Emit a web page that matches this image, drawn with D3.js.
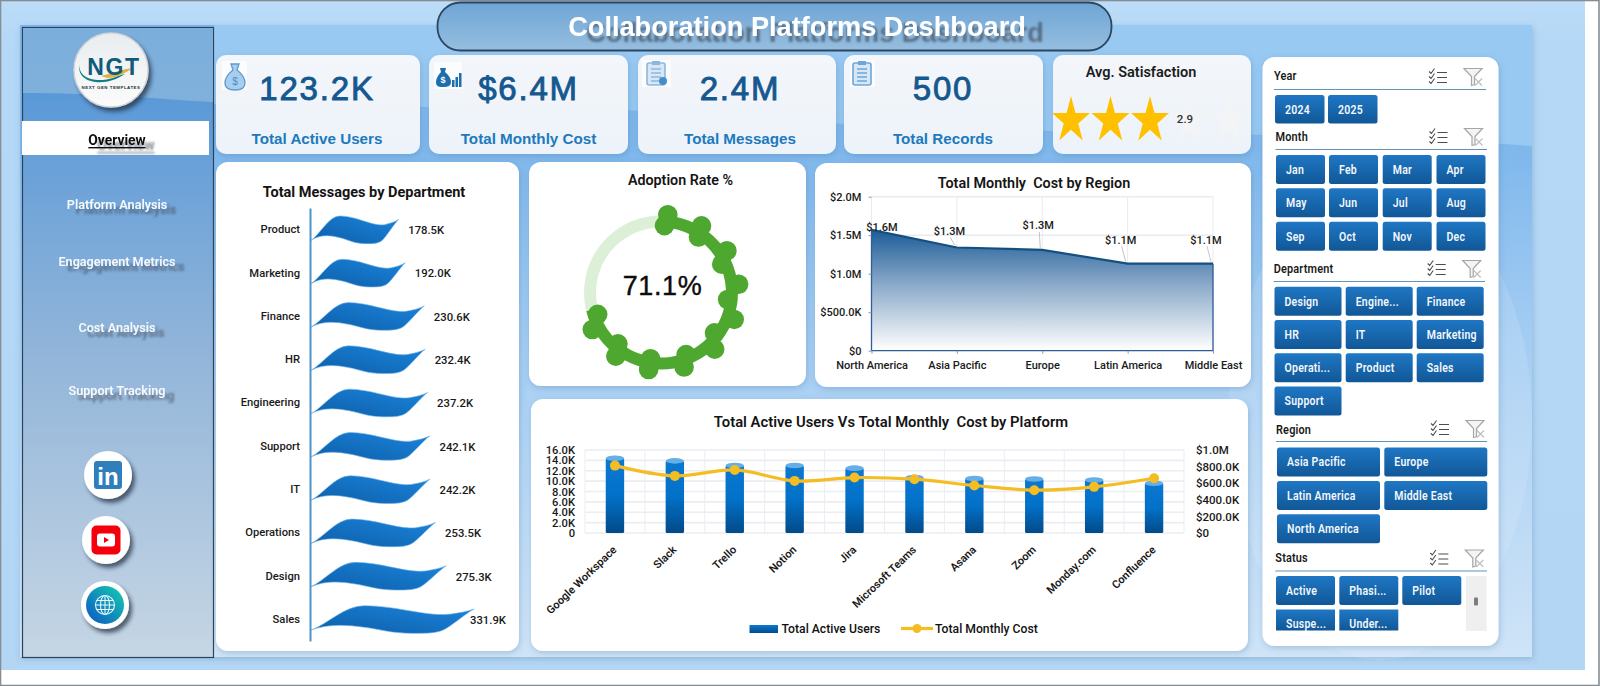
<!DOCTYPE html>
<html>
<head>
<meta charset="utf-8">
<title>Collaboration Platforms Dashboard</title>
<script src="https://cdn.jsdelivr.net/npm/d3@7"></script>
<style>
  html, body { margin: 0; padding: 0; background: #fff; overflow: hidden; }
  svg { display: block; }
  text { font-family: Roboto, "Noto Sans", sans-serif; }
  .arial { font-family: "Liberation Sans", Arial, sans-serif; }
</style>
</head>
<body>
<div id="dash"></div>
<script>
// Key figures
const kpiTitles = ["Total Active Users", "Total Monthly Cost", "Total Messages", "Total Records"];
const kpiValues = ["123.2K", "$6.4M", "2.4M", "500"];
const satisfaction = 2.9;
const adoptionRate = 71.1;

// Messages by department
const departments = ["Product", "Marketing", "Finance", "HR", "Engineering", "Support", "IT", "Operations", "Design", "Sales"];
const messages = [178500, 192000, 230600, 232400, 237200, 242100, 242200, 253500, 275300, 331900];

// Monthly cost by region
const regions = ["North America", "Asia Pacific", "Europe", "Latin America", "Middle East"];
const regionCost = [1570000, 1340000, 1310000, 1130000, 1130000];
const regionTicks = [0, 500000, 1000000, 1500000, 2000000];

// Users and cost by platform
const platforms = ["Google Workspace", "Slack", "Trello", "Notion", "Jira", "Microsoft Teams", "Asana", "Zoom", "Monday.com", "Confluence"];
const activeUsers = [14400, 13900, 13000, 13000, 12500, 10700, 10500, 10400, 10200, 9600];
const monthlyCost = [812000, 688000, 760000, 628000, 668000, 648000, 572000, 516000, 556000, 660000];
const userTicks = [0, 2000, 4000, 6000, 8000, 10000, 12000, 14000, 16000];
const costTicks = [0, 200000, 400000, 600000, 800000, 1000000];

// Navigation and filter lists
const navItems = ["Overview", "Platform Analysis", "Engagement Metrics", "Cost Analysis", "Support Tracking"];
const years = ["2024", "2025"];
const months = ["Jan", "Feb", "Mar", "Apr", "May", "Jun", "Jul", "Aug", "Sep", "Oct", "Nov", "Dec"];
const deptButtons = ["Design", "Engine...", "Finance", "HR", "IT", "Marketing", "Operati...", "Product", "Sales", "Support"];
const regionButtons = ["Asia Pacific", "Europe", "Latin America", "Middle East", "North America"];
const statusButtons = ["Active", "Phasi...", "Pilot", "Suspe...", "Under..."];

const svg = d3.select("#dash").append("svg").attr("width", 1600).attr("height", 686);
const defs = svg.append("defs");

function linear(id, stops, dir) {
  const g = defs.append("linearGradient").attr("id", id);
  const d = dir || [0, 0, 0, 1];
  g.attr("x1", d[0]).attr("y1", d[1]).attr("x2", d[2]).attr("y2", d[3]);
  stops.forEach(s => g.append("stop").attr("offset", s[0]).attr("stop-color", s[1]));
}
linear("outerGrad", [[0, "#bcdcf8"], [0.06, "#b5d8f6"], [1, "#b3d6f4"]]);
linear("panelGrad", [[0, "#7db6ec"], [0.2, "#80b8ec"], [0.5, "#a4cdf3"], [1, "#cfe4f7"]]);
linear("panelTop", [[0, "#98c9f2"], [1, "#98c9f2"]]);
linear("sideGrad", [[0, "#4a93d8"], [0.12, "#5c9ad8"], [0.5, "#90b4d9"], [1, "#c6d6e4"]]);
linear("sideTop", [[0, "#7caedb"], [1, "#80b1dd"]]);
linear("pillGrad", [[0, "#6ea5d6"], [1, "#96bedf"]]);
linear("waveGrad", [[0, "#0d5ea8"], [1, "#1b84dc"]], [0, 1, 1, 0]);
linear("areaGrad", [[0, "#1c5c97"], [0.45, "#8aa9c9"], [1, "#ffffff"]]);
linear("barGrad", [[0, "#0b78d2"], [0.5, "#0271c8"], [1, "#024a88"]]);
linear("btnGrad", [[0, "#1f77c4"], [1, "#115797"]]);
linear("legendGrad", [[0, "#0b78d2"], [1, "#024a88"]]);
linear("logoGrad", [[0, "#e9edf0"], [1, "#fbfbfa"]]);
linear("kpiGrad", [[0, "#f3f6fa"], [1, "#edf3fa"]]);
linear("webGrad", [[0, "#17cdb0"], [1, "#0a56c4"]], [1, 0, 0, 1]);

const soft = defs.append("filter").attr("id", "cardShadow").attr("x", "-10%").attr("y", "-10%").attr("width", "120%").attr("height", "120%");
soft.append("feDropShadow").attr("dx", 1).attr("dy", 2).attr("stdDeviation", 3).attr("flood-color", "#3c6f9e").attr("flood-opacity", 0.3);
const hard = defs.append("filter").attr("id", "iconShadow").attr("x", "-30%").attr("y", "-30%").attr("width", "170%").attr("height", "170%");
hard.append("feDropShadow").attr("dx", 3).attr("dy", 4).attr("stdDeviation", 2).attr("flood-color", "#1d2c3a").attr("flood-opacity", 0.7);
function textShadow(id, dx, dy) {
  const f = defs.append("filter").attr("id", id).attr("x", "-15%").attr("y", "-60%").attr("width", "140%").attr("height", "240%");
  f.append("feDropShadow").attr("dx", dx).attr("dy", dy).attr("stdDeviation", 1.2).attr("flood-color", "#38434f").attr("flood-opacity", 0.6);
}
textShadow("navShadow", 9, 5);
textShadow("titleShadow", 18, 6);

function label(parent, x, y, str, opts) {
  const o = opts || {};
  return parent.append("text").attr("x", x).attr("y", y).text(str)
    .attr("class", o.cls || null)
    .attr("text-anchor", o.anchor || "middle")
    .attr("dominant-baseline", "central")
    .attr("font-size", o.size || 12)
    .attr("font-weight", o.weight || 500)
    .attr("letter-spacing", o.spacing || null)
    .attr("fill", o.fill || "#111");
}
// Horizontally condensed text for the filter panel
function narrowLabel(x, y, str, opts) {
  const o = opts || {};
  return svg.append("text").attr("transform", `translate(${x},${y}) scale(0.84,1)`).text(str)
    .attr("text-anchor", "start")
    .attr("dominant-baseline", "central")
    .attr("font-size", o.size || 12.5)
    .attr("font-weight", o.weight || 600)
    .attr("letter-spacing", o.spacing || null)
    .attr("fill", o.fill || "#111");
}
function card(x0, y0, x1, y1, r, fill) {
  svg.append("rect").attr("x", x0).attr("y", y0).attr("width", x1 - x0).attr("height", y1 - y0)
    .attr("rx", r).attr("fill", fill || "#fff").attr("filter", "url(#cardShadow)");
}

/* ---------- page background ---------- */
svg.append("rect").attr("width", 1600).attr("height", 686).attr("fill", "#fff");
svg.append("rect").attr("x", 1).attr("y", 1).attr("width", 1584).attr("height", 669).attr("fill", "url(#outerGrad)");
svg.append("rect").attr("x", 20).attr("y", 25).attr("width", 1512).attr("height", 632).attr("fill", "url(#panelGrad)").attr("filter", "url(#cardShadow)");
svg.append("path").attr("fill", "url(#panelTop)")
  .attr("d", "M214,25H1532V146C1300,128 1000,138 760,118C560,102 380,110 214,104Z");
svg.append("ellipse").attr("cx", 1380).attr("cy", 420).attr("rx", 152).attr("ry", 240).attr("fill", "#fff").attr("opacity", 0.12);
svg.append("rect").attr("x", 0.5).attr("y", 0.5).attr("width", 1598.5).attr("height", 685).attr("fill", "none").attr("stroke", "#858d95").attr("stroke-width", 1.6);

/* ---------- title ---------- */
svg.append("rect").attr("x", 437.5).attr("y", 2.5).attr("width", 674).attr("height", 48).attr("rx", 23)
  .attr("fill", "url(#pillGrad)").attr("stroke", "#2c4660").attr("stroke-width", 1.8);
label(svg, 797, 26, "Collaboration Platforms Dashboard", { cls: "arial", size: 27.2, weight: 700, fill: "#fff" })
  .attr("filter", "url(#titleShadow)");

/* ---------- sidebar ---------- */
const side = svg.append("g");
side.append("rect").attr("x", 22.5).attr("y", 27.5).attr("width", 191).attr("height", 630)
  .attr("fill", "url(#sideGrad)").attr("stroke", "#2b4257").attr("stroke-width", 1.2);
side.append("path").attr("fill", "url(#sideTop)").attr("d", "M23,28H213V102C150,98 80,92 23,93Z");

const navY = [140, 204, 261, 327, 390];
navItems.forEach((name, i) => {
  if (i === 0) side.append("rect").attr("x", 22).attr("y", 121).attr("width", 187).attr("height", 34).attr("fill", "#fff");
  label(side, 117, navY[i], name, { size: i === 0 ? 13.8 : 12.6, weight: i === 0 ? 700 : 600, fill: i === 0 ? "#111" : "#f6f9fc" })
    .attr("text-decoration", i === 0 ? "underline" : null)
    .attr("filter", "url(#navShadow)");
});

// Logo badge
const logo = side.append("g").attr("transform", "translate(111,70)");
logo.append("circle").attr("r", 37).attr("fill", "url(#logoGrad)").attr("stroke", "#d2d6da").attr("stroke-width", 1.5).attr("filter", "url(#iconShadow)");
logo.append("path").attr("d", "M-31,-5C-33,5 -22,11 -8,10C2,9 8,5 14,4C5,10 -5,13 -15,12C-26,11 -34,4 -31,-5Z").attr("fill", "#0f7d86");
logo.append("path").attr("d", "M-10,6C2,3 12,-1 22,-2C14,3 6,8 -4,8Z").attr("fill", "#e0b040");
label(logo, 3, -3, "NGT", { cls: "arial", size: 23, weight: 700, fill: "#0f5b7c", spacing: 1.6 });
label(logo, 0, 17, "NEXT GEN TEMPLATES", { cls: "arial", size: 4.4, weight: 700, fill: "#23313c", spacing: 0.5 });

// Social badges
const badgeCenters = [[108, 475], [106, 540], [105, 605]];
badgeCenters.forEach(c => {
  side.append("circle").attr("cx", c[0]).attr("cy", c[1]).attr("r", 24).attr("fill", "#fff").attr("filter", "url(#iconShadow)");
});
const li = side.append("g").attr("transform", `translate(${badgeCenters[0]})`);
li.append("rect").attr("x", -14).attr("y", -14).attr("width", 28).attr("height", 28).attr("rx", 3).attr("fill", "#2f7fbc");
label(li, 0, 1, "in", { cls: "arial", size: 24, weight: 700, fill: "#fff" });
const yt = side.append("g").attr("transform", `translate(${badgeCenters[1]})`);
yt.append("rect").attr("x", -14.5).attr("y", -14.5).attr("width", 29).attr("height", 29).attr("rx", 5).attr("fill", "#f4000c");
yt.append("rect").attr("x", -9).attr("y", -6.5).attr("width", 18).attr("height", 13).attr("rx", 3).attr("fill", "#fff");
yt.append("path").attr("d", "M-2,-3L3,0L-2,3Z").attr("fill", "#f4000c");
const web = side.append("g").attr("transform", `translate(${badgeCenters[2]})`);
web.append("circle").attr("r", 19).attr("fill", "url(#webGrad)");
const globe = web.append("g").attr("fill", "none").attr("stroke", "#e8f6fb").attr("stroke-width", 1.1);
globe.append("circle").attr("r", 9.5);
globe.append("ellipse").attr("rx", 4.5).attr("ry", 9.5);
globe.append("path").attr("d", "M-9.5,0H9.5M-8.3,-4.5H8.3M-8.3,4.5H8.3M0,-9.5V9.5");

/* ---------- KPI cards ---------- */
const kpiBoxes = [[216, 420], [429, 628], [638, 836], [844, 1043]];
const kpiCentres = [317, 528.5, 740, 943];
kpiBoxes.forEach((b, i) => {
  card(b[0], 55, b[1], 154, 10, "url(#kpiGrad)");
  label(svg, kpiCentres[i], 88.5, kpiValues[i], { cls: "arial", size: 33, weight: 400, fill: "#15588f", spacing: 1.8 })
    .attr("stroke", "#15588f").attr("stroke-width", 0.9);
  label(svg, kpiCentres[i], 138.5, kpiTitles[i], { cls: "arial", size: 15.2, weight: 700, fill: "#2079bd" });
});

// Small pictograms in the KPI cards
const pict = [[222, 61, 25, 29], [434, 62, 28, 27], [642, 60, 29, 27], [850, 60, 25, 27]];
pict.forEach(p => svg.append("rect").attr("x", p[0]).attr("y", p[1]).attr("width", p[2]).attr("height", p[3]).attr("fill", "#fbfcfe"));
const bag = svg.append("g").attr("transform", "translate(235,77)");
bag.append("path").attr("d", "M-4,-13H4L2,-7C7,-3 10,2 10,6C10,11 6,13 0,13C-6,13 -10,11 -10,6C-10,2 -7,-3 -2,-7Z").attr("fill", "#a9cdec").attr("stroke", "#5c9ad2").attr("stroke-width", 1.3);
label(bag, 0, 4, "$", { cls: "arial", size: 10, weight: 400, fill: "#4a8cc6" });
const bag2 = svg.append("g").attr("transform", "translate(448,76)");
bag2.append("path").attr("d", "M-8,-8H-2L-3,-4C1,-1 3,3 3,6C3,10 0,11 -5,11C-10,11 -12,10 -12,6C-12,3 -10,-1 -7,-4Z").attr("fill", "#1c6eac");
label(bag2, -5, 4, "$", { cls: "arial", size: 9, weight: 700, fill: "#fff" });
[[4, 4], [7.5, 1], [11, -3]].forEach(s => bag2.append("rect").attr("x", s[0]).attr("y", s[1]).attr("width", 2.5).attr("height", 11 - s[1]).attr("fill", "#1c6eac"));
[[656, 73, "#8bb8df"], [862, 73, "#6ea6d8"]].forEach((s, idx) => {
  const g = svg.append("g").attr("transform", `translate(${s[0]},${s[1]})`);
  g.append("rect").attr("x", -9).attr("y", -10).attr("width", 18).attr("height", 22).attr("rx", 2).attr("fill", "#d7e7f5").attr("stroke", s[2]).attr("stroke-width", 1.6);
  g.append("rect").attr("x", -4).attr("y", -12).attr("width", 8).attr("height", 4).attr("fill", s[2]);
  g.append("path").attr("d", "M-5,-4H5M-5,0H5M-5,4H5M-5,8H5").attr("stroke", s[2]).attr("stroke-width", 1.5);
  if (idx === 0) g.append("circle").attr("cx", 7).attr("cy", 8).attr("r", 4).attr("fill", "#4a8cc6");
});

/* ---------- satisfaction stars ---------- */
card(1053, 55, 1251, 154, 10, "url(#kpiGrad)");
label(svg, 1141, 72, "Avg. Satisfaction", { size: 14.5, weight: 600, fill: "#1c1c1c" });
const starX = d3.scaleLinear().domain([0, 4]).range([1071, 1229]);
const starPath = d3.lineRadial().curve(d3.curveLinearClosed)
  .radius((d, i) => i % 2 ? 7.6 : 20)
  .angle((d, i) => i * Math.PI / 5);
svg.selectAll(".star").data(d3.range(5)).join("path").attr("class", "star")
  .attr("transform", d => `translate(${starX(d)},120.5) scale(1,1.23)`)
  .attr("d", starPath(d3.range(10)))
  .attr("fill", d => d < Math.round(satisfaction) ? "#ffc000" : "#f2f4f6");
label(svg, 1185, 119, satisfaction.toFixed(1), { size: 11.5, weight: 500, fill: "#333" });

/* ---------- messages by department ---------- */
card(216, 162, 519, 651, 12);
label(svg, 364, 192, "Total Messages by Department", { size: 14.5, weight: 700, fill: "#141414" });
const kFmt = v => (v / 1000).toFixed(1) + "K";
const msgX = d3.scaleLinear().domain([0, 350000]).range([310, 482]);
const msgY = d3.scaleBand().domain(departments).range([208, 641]);
function wave(w) {
  const p = d3.path();
  p.moveTo(0, 10.7);
  p.bezierCurveTo(.1 * w, 5, .2 * w, -13.5, .33 * w, -13.7);
  p.bezierCurveTo(.52 * w, -13.7, .7 * w, -3, .84 * w, -5);
  p.bezierCurveTo(.9 * w, -6, .96 * w, -8, w, -10.3);
  p.bezierCurveTo(.95 * w, -6, .88 * w, 4, .83 * w, 9);
  p.bezierCurveTo(.78 * w, 14, .72 * w, 14, .62 * w, 14);
  p.bezierCurveTo(.5 * w, 14, .42 * w, 10, .33 * w, 8);
  p.bezierCurveTo(.2 * w, 5, .1 * w, 5, 0, 10.7);
  p.closePath();
  return p.toString();
}
const msgGroup = svg.append("g");
msgGroup.selectAll("path").data(departments).join("path")
  .attr("transform", d => `translate(${msgX(0) + 1},${msgY(d) + msgY.bandwidth() / 2})`)
  .attr("d", (d, i) => wave(msgX(messages[i]) - msgX(0)))
  .attr("fill", "url(#waveGrad)").attr("stroke", "#6db2e8").attr("stroke-width", 0.6);
msgGroup.selectAll("text.val").data(departments).join("text").attr("class", "val")
  .attr("x", (d, i) => Math.min(msgX(messages[i]) + 10.5, 470))
  .attr("y", d => msgY(d) + msgY.bandwidth() / 2 + 1)
  .attr("dominant-baseline", "central").attr("font-size", 11.3).attr("font-weight", 500).attr("fill", "#1a1a1a")
  .text((d, i) => kFmt(messages[i]));
const msgAxis = svg.append("g").attr("transform", `translate(${msgX(0)},0)`)
  .call(d3.axisLeft(msgY).tickSize(0).tickPadding(10));
msgAxis.select(".domain").attr("stroke", "#4f93c8").attr("stroke-width", 2);
msgAxis.selectAll("text").attr("font-size", 11.2).attr("font-weight", 500).attr("fill", "#1a1a1a")
  .attr("font-family", "Roboto");

/* ---------- adoption ring ---------- */
card(529, 162, 806, 386, 12);
label(svg, 680.5, 180, "Adoption Rate %", { size: 14.3, weight: 600, fill: "#141414" });
const ring = svg.append("g").attr("transform", "translate(661,292.5)");
const ringArc = d3.arc().innerRadius(65).outerRadius(77);
const rateAngle = d3.scaleLinear().domain([0, 100]).range([0, 2 * Math.PI]);
ring.append("path").attr("d", ringArc({ startAngle: 0, endAngle: 2 * Math.PI })).attr("fill", "#dcf0d8");
ring.append("path").attr("d", ringArc({ startAngle: 0, endAngle: rateAngle(adoptionRate) })).attr("fill", "#4ea72e");
// Knobs run along both edges of the filled part of the ring, with their own spacing
const knobs = d3.range(10).map(i => ({ r: 78, a: 5 + i * 26.3 })).concat(d3.range(9).map(i => ({ r: 67, a: 3 + i * 31 })));
ring.selectAll("circle").data(knobs).join("circle")
  .attr("cx", d => d.r * Math.sin(d.a * Math.PI / 180))
  .attr("cy", d => -d.r * Math.cos(d.a * Math.PI / 180))
  .attr("r", 9.8).attr("fill", "#4ea72e");
label(ring, 1.5, -7, adoptionRate.toFixed(1) + "%", { cls: "arial", size: 27, weight: 400, fill: "#0c0c0c", spacing: 0.6 })
  .attr("stroke", "#0c0c0c").attr("stroke-width", 0.4);

/* ---------- cost by region ---------- */
card(815, 163, 1251, 387, 12);
label(svg, 1034, 183, "Total Monthly  Cost by Region", { size: 14.4, weight: 600, fill: "#141414" }).attr("xml:space", "preserve");
const moneyFmt = v => v === 0 ? "$0" : v >= 1e6 ? "$" + (v / 1e6).toFixed(1) + "M" : "$" + (v / 1000).toFixed(1) + "K";
const regX = d3.scalePoint().domain(regions).range([871.5, 1213]);
const regY = d3.scaleLinear().domain([0, 2000000]).range([350.7, 196.7]);
const regGrid = svg.append("g").attr("stroke", "#e9ebef").attr("stroke-width", 1.6);
regGrid.selectAll("line.h").data(regionTicks.slice(1)).join("line").attr("class", "h")
  .attr("x1", regX.range()[0]).attr("x2", regX.range()[1]).attr("y1", regY).attr("y2", regY);
regGrid.selectAll("line.v").data(regions).join("line").attr("class", "v")
  .attr("stroke-width", 1)
  .attr("x1", regX).attr("x2", regX).attr("y1", regY(2000000)).attr("y2", regY(0));
const regPts = regions.map((r, i) => [regX(r), regY(regionCost[i])]);
svg.append("path").attr("fill", "url(#areaGrad)")
  .attr("d", d3.area().x(d => d[0]).y0(regY(0)).y1(d => d[1])(regPts));
svg.append("path").attr("fill", "none").attr("stroke", "#2f5b97").attr("stroke-width", 1.3)
  .attr("d", `M${regPts[0][0]},${regY(0)}V${regPts[0][1]}M${regPts[0][0]},${regY(0)}H${regPts[4][0]}V${regPts[4][1]}`);
svg.append("path").attr("fill", "none").attr("stroke", "#14507f").attr("stroke-width", 2.2).attr("d", d3.line()(regPts));
const regAxisL = svg.append("g").attr("transform", `translate(${regX.range()[0]},0)`)
  .call(d3.axisLeft(regY).tickValues(regionTicks).tickFormat(moneyFmt).tickSize(3).tickPadding(7));
regAxisL.select(".domain").remove();
regAxisL.selectAll("line").attr("stroke", "#8d97a8");
regAxisL.selectAll("text").attr("font-size", 11).attr("font-weight", 500).attr("fill", "#1a1a1a").attr("font-family", "Roboto");
const regAxisB = svg.append("g").attr("transform", `translate(0,${regY(0)})`)
  .call(d3.axisBottom(regX).tickSize(3).tickPadding(8));
regAxisB.select(".domain").remove();
regAxisB.selectAll("line").attr("stroke", "#8d97a8");
regAxisB.selectAll("text").attr("font-size", 11).attr("font-weight", 500).attr("fill", "#1a1a1a").attr("font-family", "Roboto");
// Callout labels sit off their points, joined by thin leader lines
const calloutShift = [[10.5, -2], [-7.5, -16], [-4, -24], [-7, -23.5], [-7, -23.5]];
regPts.forEach((p, i) => {
  const s = calloutShift[i];
  if (i > 0) svg.append("line").attr("x1", p[0] - 2).attr("y1", p[1] - 2).attr("x2", p[0] + s[0] + 1).attr("y2", p[1] + s[1] + 6)
    .attr("stroke", "#b5b5b5").attr("stroke-width", 0.8);
  label(svg, p[0] + s[0], p[1] + s[1], moneyFmt(regionCost[i]), { size: 11, weight: 500, fill: "#1a1a1a" });
});

/* ---------- users vs cost ---------- */
card(531, 399, 1248, 651, 12);
label(svg, 891, 421.5, "Total Active Users Vs Total Monthly  Cost by Platform", { size: 14.8, weight: 600, fill: "#141414" }).attr("xml:space", "preserve");
const platX = d3.scaleBand().domain(platforms).range([585, 1184]);
const userY = d3.scaleLinear().domain([0, 16000]).range([533, 450]);
const costY = d3.scaleLinear().domain([0, 1000000]).range([533, 450]);
const platGrid = svg.append("g").attr("stroke", "#ebedf1");
platGrid.selectAll("line.h").data(userTicks).join("line").attr("class", "h").attr("stroke-width", 1.6)
  .attr("x1", 585).attr("x2", 1184).attr("y1", userY).attr("y2", userY);
platGrid.selectAll("line.v").data(platforms.concat("end")).join("line").attr("class", "v").attr("stroke-width", 1)
  .attr("x1", d => d === "end" ? 1184 : platX(d)).attr("x2", d => d === "end" ? 1184 : platX(d))
  .attr("y1", 450).attr("y2", 533);
const barW = 18.4;
const bars = svg.append("g");
bars.selectAll("rect").data(platforms).join("rect")
  .attr("x", d => platX(d) + platX.bandwidth() / 2 - barW / 2)
  .attr("y", (d, i) => userY(activeUsers[i]))
  .attr("width", barW).attr("height", (d, i) => userY(0) - userY(activeUsers[i]))
  .attr("rx", 1.5).attr("fill", "url(#barGrad)");
bars.selectAll("ellipse").data(platforms).join("ellipse")
  .attr("cx", d => platX(d) + platX.bandwidth() / 2)
  .attr("cy", (d, i) => userY(activeUsers[i]))
  .attr("rx", barW / 2).attr("ry", 2.8).attr("fill", "#66aee6");
const costLine = d3.line().curve(d3.curveCatmullRom.alpha(0.5))
  .x(d => platX(d) + platX.bandwidth() / 2)
  .y((d, i) => costY(monthlyCost[i]));
svg.append("path").attr("fill", "none").attr("stroke", "#f4bd24").attr("stroke-width", 3.2).attr("d", costLine(platforms));
svg.append("g").selectAll("circle").data(platforms).join("circle")
  .attr("cx", d => platX(d) + platX.bandwidth() / 2)
  .attr("cy", (d, i) => costY(monthlyCost[i]))
  .attr("r", 5).attr("fill", "#f4bd24");
const userFmt = v => v === 0 ? "0" : (v / 1000).toFixed(1) + "K";
const axL = svg.append("g").attr("transform", "translate(585,0)")
  .call(d3.axisLeft(userY).tickValues(userTicks).tickFormat(userFmt).tickSize(0).tickPadding(10));
axL.select(".domain").remove();
axL.selectAll("text").attr("font-size", 11.2).attr("font-weight", 500).attr("fill", "#1a1a1a").attr("font-family", "Roboto");
const axR = svg.append("g").attr("transform", "translate(1184,0)")
  .call(d3.axisRight(costY).tickValues(costTicks).tickFormat(moneyFmt).tickSize(0).tickPadding(12));
axR.select(".domain").remove();
axR.selectAll("text").attr("font-size", 11.5).attr("font-weight", 500).attr("fill", "#1a1a1a").attr("font-family", "Roboto");
const axB = svg.append("g").attr("transform", "translate(0,533)")
  .call(d3.axisBottom(platX).tickSize(0).tickPadding(0));
axB.select(".domain").remove();
axB.selectAll("text").attr("font-size", 11).attr("font-weight", 600).attr("fill", "#1a1a1a").attr("font-family", "Roboto")
  .attr("text-anchor", "end").attr("dy", null).attr("y", 0)
  .attr("transform", "translate(0,15) rotate(-44)").attr("dominant-baseline", "central");
// Legend
svg.append("rect").attr("x", 749.5).attr("y", 625).attr("width", 28.5).attr("height", 8).attr("fill", "url(#legendGrad)");
label(svg, 781.5, 628.5, "Total Active Users", { anchor: "start", size: 12.2, weight: 500 });
svg.append("line").attr("x1", 901).attr("x2", 933).attr("y1", 628.5).attr("y2", 628.5).attr("stroke", "#f4bd24").attr("stroke-width", 3.2);
svg.append("circle").attr("cx", 917).attr("cy", 628.5).attr("r", 4.5).attr("fill", "#f4bd24");
label(svg, 935, 628.5, "Total Monthly Cost", { anchor: "start", size: 12.2, weight: 500 });

/* ---------- filter panel ---------- */
card(1262.5, 57, 1498.5, 646, 12);
function slicerHeader(name, x, y, lineY, x1, iconShift) {
  narrowLabel(x, y, name, { size: 13, weight: 600, fill: "#1a1a1a", spacing: 0.2 });
  svg.append("line").attr("x1", x).attr("x2", x1).attr("y1", lineY).attr("y2", lineY).attr("stroke", "#5f93b8").attr("stroke-width", 1.2);
  const g = svg.append("g").attr("transform", `translate(${x + iconShift},${lineY - 13})`);
  g.append("path").attr("fill", "none").attr("stroke", "#4d4d4d").attr("stroke-width", 1.1)
    .attr("d", "M0,-5L2,-3L5.5,-8M0,0L2,2L5.5,-3M0,5L2,7L5.5,2M8,-4H18M8,1H18M8,6H18");
  const f = g.append("g").attr("transform", "translate(35,0)");
  f.append("path").attr("d", "M0,-8H18L10.5,0V8L7.5,9V0Z").attr("fill", "#f4f4f4").attr("stroke", "#a6a6a6").attr("stroke-width", 1.2);
  f.append("path").attr("d", "M11,2L18,9M18,2L11,9").attr("stroke", "#bdbdbd").attr("stroke-width", 1.1);
}
function slicerButtons(names, colX, rowY, btnW, btnH) {
  names.forEach((n, i) => {
    const x = colX[i % colX.length];
    const y = rowY[Math.floor(i / colX.length)];
    const h = btnH[Math.floor(i / colX.length)] || btnH[0];
    const clipped = h < btnH[0];
    svg.append("rect").attr("x", x).attr("y", y).attr("width", btnW).attr("height", h).attr("rx", clipped ? 0 : 2.5).attr("fill", "url(#btnGrad)");
    narrowLabel(x + 10, y + 14.5, n, { size: 12.5, weight: 600, fill: "#f4f8fc", spacing: 0.3 });
  });
}
slicerHeader("Year", 1274, 76, 89.5, 1486, 155);
slicerButtons(years, [1275, 1328], [95], 49.5, [28.5]);
slicerHeader("Month", 1275.5, 137, 149.5, 1487, 154);
slicerButtons(months, [1276, 1329, 1382.7, 1436.5], [155, 188.3, 221.7], 49, [29]);
slicerHeader("Department", 1273.7, 268.5, 281.5, 1485, 154);
slicerButtons(deptButtons, [1274.5, 1345.7, 1416.7], [286.7, 320, 353.3, 386.5], 67, [29]);
slicerHeader("Region", 1276, 429.5, 441.5, 1487, 155);
slicerButtons(regionButtons, [1277, 1384.3], [447.5, 481, 514.3], 103, [29]);
slicerHeader("Status", 1275.3, 558, 571, 1487, 155);
slicerButtons(statusButtons, [1276, 1339.3, 1402.3], [576, 609.5], 59, [29, 21]);
svg.append("rect").attr("x", 1466).attr("y", 576).attr("width", 20.7).attr("height", 55).attr("fill", "#efefef");
svg.append("rect").attr("x", 1474).attr("y", 597.5).attr("width", 4).attr("height", 8).attr("rx", 1).attr("fill", "#7d7d7d");
</script>
</body>
</html>
